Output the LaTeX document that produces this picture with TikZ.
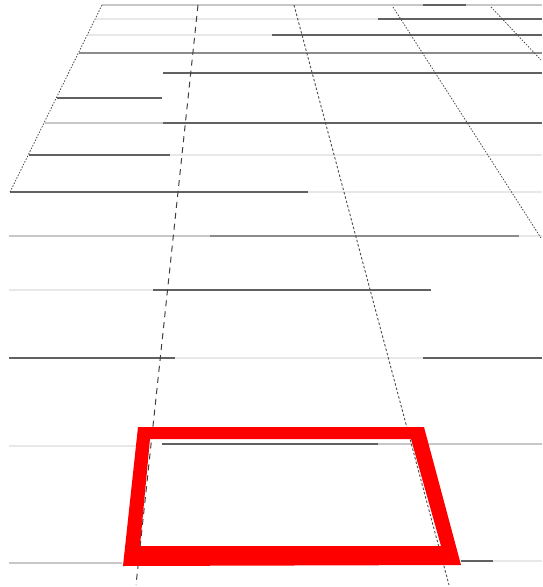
\documentclass[tikz,border=0pt]{standalone}
\begin{document}
\begin{tikzpicture}[x=1pt,y=-1pt,
  dk/.style={draw=black!62,line width=1.3pt},
  md/.style={draw=black!45,line width=1.3pt},
  lt/.style={draw=black!22,line width=1.3pt},
  vl/.style={draw=black!9,line width=1.3pt},
  dashA/.style={draw=black!75,line width=1pt,dash pattern=on 6pt off 5pt},
  dashB/.style={draw=black!70,line width=0.9pt,dash pattern=on 2.5pt off 2pt},
  dotC/.style={draw=black!70,line width=0.8pt,dash pattern=on 1.5pt off 1.5pt}]
\useasboundingbox (0,0) rectangle (542,587);
% row y=5
\draw[lt] (102,5) -- (423,5);
\draw[dk] (423,5) -- (466,5);
\draw[lt] (466,5) -- (542,5);
% row y=19
\draw[vl] (96,19) -- (378,19);
\draw[dk] (378,19) -- (542,19);
% row y=35
\draw[vl] (88,35) -- (272,35);
\draw[dk] (272,35) -- (542,35);
% row y=53
\draw[md] (79,53) -- (542,53);
% row y=73
\draw[dk] (163,73) -- (542,73);
% row y=98
\draw[dk] (57,98) -- (162,98);
% row y=123
\draw[lt] (45,123) -- (163,123);
\draw[dk] (163,123) -- (542,123);
% row y=155
\draw[dk] (29,155) -- (170,155);
\draw[vl] (170,155) -- (542,155);
% row y=192
\draw[dk] (10,192) -- (308,192);
\draw[vl] (308,192) -- (542,192);
% row y=236
\draw[lt] (9,236) -- (210,236);
\draw[md] (210,236) -- (519,236);
\draw[vl] (519,236) -- (542,236);
% row y=290
\draw[vl] (9,290) -- (153,290);
\draw[dk] (153,290) -- (431,290);
% row y=358
\draw[dk] (9,358) -- (175,358);
\draw[vl] (175,358) -- (423,358);
\draw[dk] (423,358) -- (542,358);
% row y=446
\draw[vl] (9,446) -- (136,446);
\draw[dk] (162,444) -- (378,444);
\draw[lt] (378,444) -- (542,444);
% row y=563
\draw[lt] (9,563) -- (122,563);
\draw[dk] (461,561) -- (493,561);
\draw[vl] (493,561) -- (542,561);
% edges and vanishing lines
\draw[dotC] (102,5) -- (10,192);
\draw[dashA] (198,5) -- (136,585);
\draw[dashB] (294,5) -- (449,585);
\draw[dotC] (393,7) -- (541,238);
\draw[dotC] (491,7) -- (541,60);
% red quadrilateral frame
\coordinate (otl) at (138,427);
\coordinate (otr) at (424,427);
\coordinate (obr) at (461,565);
\coordinate (obl) at (123,566);
\coordinate (itl) at (150,439);
\coordinate (itr) at (411,439);
\coordinate (ibr) at (441,546);
\coordinate (ibl) at (140,546);
\fill[red,even odd rule] (otl) -- (otr) -- (obr) -- (obl) -- cycle
  (itl) -- (itr) -- (ibr) -- (ibl) -- cycle;
\end{tikzpicture}
\end{document}
